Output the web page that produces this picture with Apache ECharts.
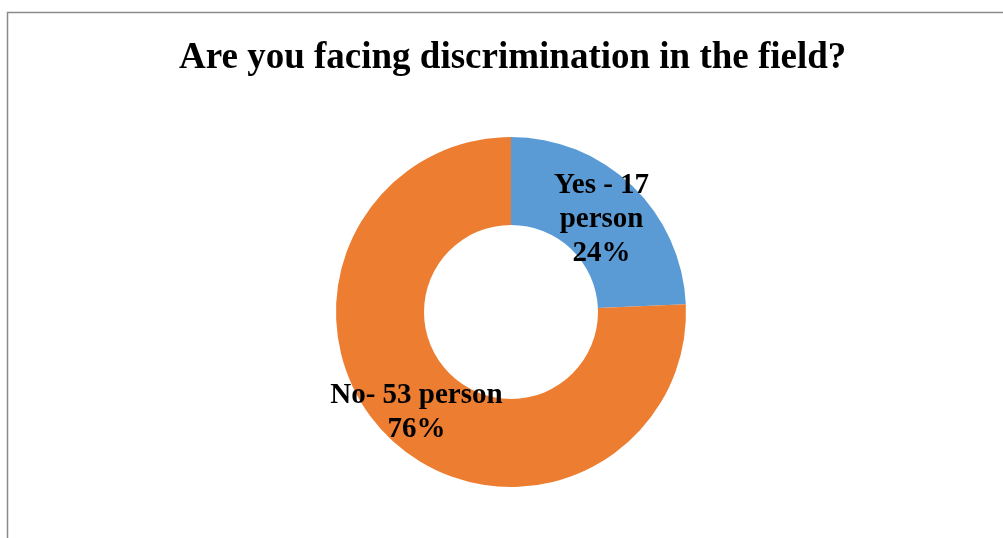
<!DOCTYPE html>
<html>
<head>
<meta charset="utf-8">
<script src="https://cdn.jsdelivr.net/npm/echarts@6/dist/echarts.min.js"></script>
<style>
  html, body { margin: 0; padding: 0; background: #fff; }
  #chart { width: 1003px; height: 538px; }
</style>
</head>
<body>
<div id="chart"></div>
<script>
// Survey answers
const titleText = 'Are you facing discrimination in the field?';
const categories = ['Yes', 'No'];
const values = [17, 53];
// Label text for each answer ("{v}" = count, "{p}" = percent)
const labelTemplates = ['Yes - {v}\nperson\n{p}%', 'No- {v} person\n{p}%'];
const colors = ['#5B9BD5', '#ED7D31'];

const chart = echarts.init(document.getElementById('chart'), null, { renderer: 'canvas' });

const data = categories.map((c, i) => ({
  name: c,
  value: values[i],
  itemStyle: { color: colors[i] },
  label: {
    formatter: p => labelTemplates[i]
      .replace('{v}', p.value)
      .replace('{p}', Math.round(p.percent))
  }
}));

chart.setOption({
  animation: false,
  backgroundColor: '#ffffff',
  title: {
    text: titleText,
    left: 174,
    top: 35,
    textStyle: {
      fontFamily: '"Liberation Serif", "Times New Roman", serif',
      fontWeight: 'bold',
      fontSize: 37,
      color: '#000'
    }
  },
  graphic: [{
    type: 'rect',
    silent: true,
    shape: { x: 7.5, y: 12.5, width: 1100, height: 700 },
    style: { fill: 'none', stroke: '#8a8a8a', lineWidth: 1.5 }
  }],
  series: [{
    type: 'pie',
    center: [511, 312],
    radius: [87, 175],
    startAngle: 90,
    clockwise: true,
    avoidLabelOverlap: false,
    emphasis: { disabled: true },
    itemStyle: { borderWidth: 0 },
    label: {
      show: true,
      position: 'inside',
      overflow: 'none',
      offset: [-2, 4],
      color: '#000',
      fontFamily: '"Liberation Serif", "Times New Roman", serif',
      fontWeight: 'bold',
      fontSize: 29,
      lineHeight: 34,
      textBorderWidth: 0
    },
    labelLine: { show: false },
    data: data
  }]
});
</script>
</body>
</html>
